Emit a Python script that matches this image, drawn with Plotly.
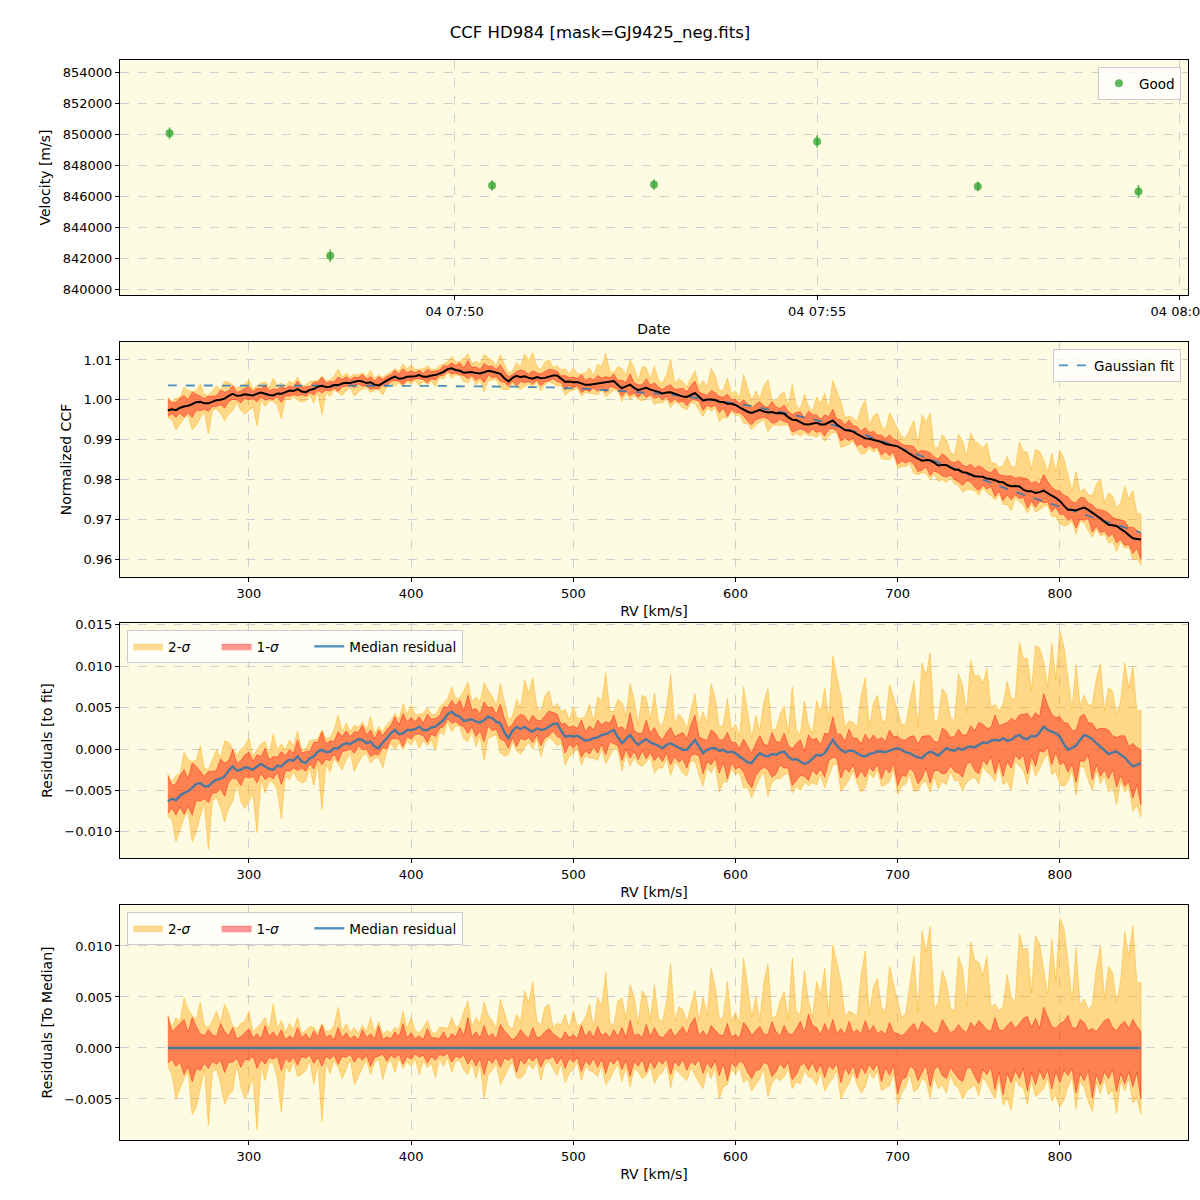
import numpy as np
import plotly.graph_objects as go

# ---------------- data ----------------
obs_time = ["2021-10-04 07:46:04", "2021-10-04 07:48:17", "2021-10-04 07:50:31",
            "2021-10-04 07:52:45", "2021-10-04 07:55:00", "2021-10-04 07:57:13",
            "2021-10-04 07:59:26"]
obs_vel = [850050, 842150, 846680, 846740, 849520, 846620, 846290]
obs_err = [380, 400, 330, 330, 400, 320, 420]

rv = [250 + 2.5 * i for i in range(241)]

# Gaussian fit (normalized CCF)
gauss_fit = [
    1.0036, 1.0036, 1.0036, 1.0036, 1.0036, 1.0036, 1.0036, 1.0036, 1.0036, 1.0036,
    1.0036, 1.0036, 1.0036, 1.0036, 1.0036, 1.0036, 1.0036, 1.0036, 1.0036, 1.0036,
    1.0036, 1.0036, 1.0036, 1.0036, 1.0036, 1.0036, 1.0036, 1.0036, 1.0036, 1.0036,
    1.0036, 1.0036, 1.0036, 1.0036, 1.0036, 1.0036, 1.0036, 1.0036, 1.0036, 1.0036,
    1.0036, 1.0036, 1.0036, 1.0036, 1.0036, 1.0036, 1.0036, 1.0036, 1.0035, 1.0035,
    1.0035, 1.0035, 1.0035, 1.0035, 1.0035, 1.0035, 1.0035, 1.0035, 1.0035, 1.0035,
    1.0035, 1.0035, 1.0035, 1.0035, 1.0035, 1.0035, 1.0035, 1.0035, 1.0035, 1.0035,
    1.0034, 1.0034, 1.0034, 1.0034, 1.0034, 1.0034, 1.0034, 1.0034, 1.0034, 1.0034,
    1.0034, 1.0034, 1.0034, 1.0034, 1.0033, 1.0033, 1.0033, 1.0033, 1.0032, 1.0032,
    1.0032, 1.0032, 1.0031, 1.0031, 1.0031, 1.0031, 1.0030, 1.0030, 1.0030, 1.0030,
    1.0029, 1.00285, 1.0028, 1.00275, 1.0027, 1.00265, 1.0026, 1.00255, 1.0025, 1.00245,
    1.0024, 1.0023, 1.0022, 1.00215, 1.0021, 1.0020, 1.0019, 1.00185, 1.0018, 1.00175,
    1.0017, 1.0016, 1.0015, 1.00135, 1.0012, 1.0011, 1.0010, 1.0009, 1.0008, 1.0007,
    1.0006, 1.00045, 1.0003, 1.00015, 1.0000, 0.99985, 0.9997, 0.99955, 0.9994, 0.9993,
    0.9992, 0.9990, 0.9988, 0.9986, 0.9984, 0.9982, 0.9980, 0.99785, 0.9977, 0.9975,
    0.9973, 0.99705, 0.9968, 0.99655, 0.9963, 0.9961, 0.9959, 0.99565, 0.9954, 0.99515,
    0.9949, 0.9946, 0.9943, 0.9940, 0.9937, 0.9934, 0.9931, 0.9928, 0.9925, 0.9922,
    0.9919, 0.99155, 0.9912, 0.9908, 0.9904, 0.99005, 0.9897, 0.9893, 0.9889, 0.98855,
    0.9882, 0.9878, 0.9874, 0.9870, 0.9866, 0.9862, 0.9858, 0.98545, 0.9851, 0.9847,
    0.9843, 0.9839, 0.9835, 0.9831, 0.9827, 0.9823, 0.9819, 0.98145, 0.9810, 0.9806,
    0.9802, 0.97985, 0.9795, 0.9791, 0.9787, 0.97835, 0.9780, 0.9776, 0.9772, 0.97685,
    0.9765, 0.97615, 0.9758, 0.97545, 0.9751, 0.9748, 0.9745, 0.97415, 0.9738, 0.97345,
    0.9731, 0.9728, 0.9725, 0.97215, 0.9718, 0.9715, 0.9712, 0.97085, 0.9705, 0.9702,
    0.9699, 0.96955, 0.9692, 0.9689, 0.9686, 0.96825, 0.9679, 0.9676, 0.9673, 0.96695,
    0.9666]

# median residual to fit (units of 1e-3)
median_res = [
    -6.3, -6.0, -6.2, -5.6, -5.3, -5.1, -4.7, -4.2, -4.1, -4.5,
    -4.5, -4.0, -3.7, -3.6, -3.3, -2.6, -2.1, -2.6, -2.5, -2.2,
    -2.3, -2.5, -2.1, -1.8, -2.1, -2.4, -2.5, -2.0, -2.1, -1.6,
    -1.3, -1.4, -0.9, -1.5, -1.7, -1.1, -0.9, -0.3, -0.1, -0.4,
    -0.3, 0.1, 0.1, 0.5, 0.7, 0.6, 0.9, 1.2, 1.1, 0.7,
    0.9, 0.3, 0.1, 0.8, 1.3, 1.9, 2.3, 1.8, 1.9, 2.3,
    2.3, 2.4, 2.7, 2.3, 2.3, 2.6, 2.7, 3.1, 3.5, 4.2,
    4.5, 4.1, 3.9, 3.4, 3.5, 3.6, 3.3, 3.2, 3.5, 3.9,
    3.7, 3.3, 3.1, 2.0, 1.3, 2.2, 2.7, 2.4, 2.7, 2.3,
    2.1, 2.5, 2.3, 2.4, 2.7, 3.0, 3.1, 2.2, 1.5, 1.6,
    1.5, 1.6, 1.3, 1.0, 1.1, 1.3, 1.4, 1.7, 1.8, 2.1,
    2.3, 1.4, 0.7, 1.2, 1.7, 1.0, 0.5, 0.9, 1.2, 0.8,
    0.6, 0.4, 0.1, 0.5, 0.7, 0.4, 0.2, -0.1, -0.1, 0.5,
    1.1, 0.3, -0.5, -0.1, 0.1, 0.1, -0.2, -0.1, -0.4, -0.3,
    -0.5, -0.9, -1.3, -1.6, -1.7, -1.0, -0.5, -0.8, -0.9, -0.6,
    -0.7, -0.4, -0.3, -0.9, -1.3, -1.2, -1.5, -1.8, -1.6, -1.1,
    -0.7, -0.8, -0.5, 0.3, 1.1, 0.4, -0.1, -0.4, -0.2, -0.2,
    -0.5, -0.8, -0.9, -0.6, -0.5, -0.3, -0.3, -0.4, -0.2, 0.0,
    0.1, -0.1, -0.4, -0.5, -0.8, -1.0, -1.1, -0.6, -0.3, -0.5,
    -0.8, -0.3, 0.1, -0.1, -0.2, 0.1, -0.1, 0.2, 0.3, 0.2,
    0.5, 0.8, 0.7, 1.0, 1.1, 1.0, 1.3, 1.0, 1.1, 1.5,
    1.7, 1.3, 1.2, 1.6, 1.5, 2.0, 2.7, 2.3, 2.1, 1.9,
    1.5, 0.6, -0.1, 0.2, 0.4, 1.1, 1.7, 1.5, 1.2, 0.7,
    0.3, -0.2, -0.6, -0.4, -0.3, -0.7, -1.0, -1.6, -2.1, -1.9,
    -1.7]

# band offsets relative to the median (units of 1e-3)
sig2_hi = [
    3.3, 2.0, 3.0, 2.6, 4.9, 3.8, 3.2, 2.8, 4.5, 2.2, 2.0, 2.7, 3.6, 2.5, 4.3, 3.4, 2.1, 1.9, 2.4, 2.6,
    3.6, 1.6, 2.0, 2.4, 3.0, 1.8, 4.3, 1.9, 2.7, 1.5, 2.4, 1.8, 3.0, 1.4, 1.7, 2.1, 2.0, 1.5, 2.4, 1.6,
    1.7, 2.2, 4.0, 1.6, 2.4, 1.5, 2.0, 1.4, 2.2, 1.6, 3.0, 1.5, 2.6, 1.3, 1.7, 1.5, 2.0, 1.8, 3.6, 1.9,
    3.0, 1.7, 1.5, 2.0, 2.7, 1.6, 1.4, 2.0, 2.0, 1.9, 3.0, 2.0, 2.3, 3.6, 4.6, 2.1, 3.0, 2.4, 4.5, 3.2,
    2.7, 1.9, 4.8, 3.6, 2.2, 1.8, 3.3, 2.5, 5.6, 4.4, 6.5, 2.6, 2.2, 4.0, 4.3, 2.0, 2.4, 2.3, 3.3, 1.9,
    3.6, 2.1, 2.4, 3.0, 4.3, 2.0, 4.9, 4.1, 7.4, 2.5, 2.2, 4.6, 4.9, 2.8, 6.2, 5.0, 2.4, 5.6, 5.0, 2.7,
    6.2, 2.9, 2.6, 4.5, 8.3, 2.6, 4.0, 3.8, 2.5, 4.2, 5.6, 2.7, 5.0, 3.2, 7.8, 6.0, 2.8, 3.0, 6.5, 2.6,
    3.5, 2.4, 8.8, 6.0, 3.0, 5.0, 2.7, 6.5, 8.2, 2.9, 3.1, 4.6, 5.5, 2.8, 8.8, 3.5, 3.3, 7.6, 4.6, 3.0,
    6.5, 5.2, 7.8, 3.2, 10.1, 8.4, 6.5, 3.0, 3.6, 3.4, 3.1, 7.2, 9.5, 3.3, 6.0, 6.8, 4.0, 3.5, 8.0, 6.2,
    4.6, 3.0, 3.4, 6.2, 9.0, 3.6, 11.5, 9.4, 11.9, 3.8, 4.4, 7.6, 6.5, 3.9, 3.6, 9.0, 7.8, 4.1, 10.4, 8.6,
    8.4, 7.1, 9.0, 4.0, 4.3, 3.6, 4.1, 7.2, 5.0, 4.5, 11.2, 9.6, 9.8, 5.4, 11.0, 10.2, 7.8, 5.2, 10.7, 6.5,
    12.7, 11.8, 8.4, 4.6, 9.8, 4.2, 4.8, 3.8, 4.2, 7.8, 10.0, 4.8, 8.0, 7.4, 4.5, 6.5, 11.4, 9.0, 12.0, 6.4,
    6.4]
sig1_hi = [
    3.1, 1.6, 2.0, 2.4, 2.8, 1.5, 3.0, 2.1, 1.4, 1.2, 1.8, 1.3, 1.1, 2.4, 1.6, 1.2, 2.0, 0.9, 1.1, 1.5,
    1.9, 1.0, 1.4, 0.9, 2.2, 1.1, 1.6, 1.0, 1.8, 0.8, 1.2, 0.9, 2.0, 1.0, 1.4, 0.8, 1.7, 1.1, 2.2, 1.0,
    1.3, 0.8, 2.0, 1.0, 1.5, 0.9, 1.2, 0.8, 1.8, 1.0, 1.4, 0.9, 2.2, 0.8, 1.1, 0.9, 1.6, 1.1, 2.4, 1.0,
    1.5, 0.9, 1.2, 0.8, 1.9, 1.0, 1.0, 0.9, 1.6, 0.8, 1.4, 1.1, 2.0, 1.2, 3.0, 1.1, 1.6, 1.0, 2.2, 1.1,
    1.4, 0.9, 2.3, 1.7, 1.2, 0.8, 1.1, 1.8, 1.3, 0.9, 2.0, 1.0, 1.1, 1.6, 1.9, 1.4, 1.1, 0.8, 1.6, 1.0,
    1.3, 0.9, 2.2, 1.1, 1.7, 1.0, 2.1, 1.2, 1.5, 1.0, 1.8, 1.1, 2.0, 1.0, 2.7, 1.2, 1.4, 1.0, 2.3, 1.1,
    2.0, 1.2, 1.0, 1.5, 1.9, 1.1, 1.6, 2.1, 1.3, 2.4, 3.0, 1.2, 1.7, 1.1, 2.2, 1.8, 1.3, 1.2, 2.4, 1.1,
    1.3, 1.0, 2.5, 2.0, 1.2, 1.7, 2.1, 1.4, 1.3, 2.6, 1.6, 1.2, 2.2, 1.4, 1.3, 1.9, 2.6, 1.5, 3.3, 2.2,
    2.0, 1.3, 2.4, 1.5, 2.8, 1.4, 1.9, 1.3, 2.6, 1.5, 1.8, 1.4, 2.7, 1.6, 2.2, 1.4, 1.7, 1.3, 2.5, 1.5,
    1.4, 1.2, 1.5, 2.0, 2.4, 1.6, 2.6, 2.2, 1.9, 1.4, 1.6, 2.8, 2.1, 1.5, 1.7, 2.3, 1.8, 1.5, 2.5, 2.0,
    2.7, 2.2, 1.8, 1.6, 3.0, 1.8, 1.7, 2.2, 2.6, 1.9, 2.4, 2.9, 3.1, 2.0, 2.9, 1.9, 4.0, 3.0, 2.1, 1.9,
    2.4, 2.6, 3.2, 2.0, 1.9, 2.8, 2.5, 1.7, 1.9, 1.6, 2.2, 2.7, 2.9, 2.0, 1.7, 2.3, 2.6, 1.9, 2.8, 2.1,
    1.6]
sig1_lo = [
    -1.5, -1.1, -1.8, -1.4, -2.6, -1.8, -3.3, -2.0, -2.2, -1.5, -2.0, -1.3, -1.6, -1.2, -2.4, -1.4, -1.4, -1.0, -1.9, -1.1,
    -1.2, -0.8, -2.0, -1.1, -1.6, -0.9, -1.1, -0.8, -2.2, -1.0, -1.4, -0.9, -1.7, -0.8, -1.0, -0.7, -1.5, -0.9, -1.8, -0.8,
    -1.1, -0.7, -1.6, -0.8, -0.9, -0.6, -1.4, -0.8, -1.2, -0.7, -1.8, -0.9, -0.8, -0.6, -1.3, -0.7, -1.0, -0.6, -1.6, -0.8,
    -1.1, -0.6, -0.9, -0.7, -1.5, -0.8, -1.2, -0.6, -0.8, -0.5, -1.4, -0.8, -1.0, -0.7, -1.6, -0.9, -1.8, -1.0, -2.6, -1.1,
    -1.5, -0.9, -1.9, -1.0, -1.2, -0.8, -2.4, -1.1, -1.6, -0.9, -1.3, -0.8, -1.9, -1.0, -1.1, -0.8, -1.6, -0.9, -2.0, -1.0,
    -1.4, -0.9, -2.3, -1.2, -1.7, -1.0, -1.9, -1.1, -2.5, -1.2, -1.6, -1.0, -2.1, -1.2, -2.8, -1.3, -1.8, -1.1, -2.4, -1.2,
    -2.0, -1.2, -1.6, -1.0, -2.6, -1.3, -1.8, -1.1, -2.2, -1.3, -1.7, -1.1, -2.5, -1.4, -2.0, -1.2, -2.7, -1.5, -3.2, -1.4,
    -1.9, -1.3, -1.5, -2.4, -3.0, -2.2, -2.1, -1.4, -1.6, -2.8, -2.3, -1.5, -2.0, -1.4, -3.1, -2.6, -1.7, -1.5, -2.2, -1.4,
    -2.4, -1.6, -2.9, -1.7, -2.1, -1.5, -3.4, -1.9, -2.6, -1.7, -3.0, -1.8, -2.5, -1.6, -2.2, -1.5, -3.3, -1.9, -2.7, -1.7,
    -4.5, -3.1, -2.9, -1.8, -2.0, -3.2, -2.4, -1.7, -3.8, -2.1, -1.8, -2.7, -3.0, -1.9, -2.5, -3.0, -3.3, -2.0, -1.9, -2.8,
    -3.5, -2.1, -2.6, -1.9, -4.1, -2.3, -4.6, -2.5, -3.4, -2.2, -3.0, -2.0, -4.2, -2.4, -3.6, -2.2, -3.1, -2.1, -4.0, -2.3,
    -3.4, -2.2, -2.7, -2.0, -4.4, -2.5, -3.2, -2.2, -4.9, -2.6, -3.6, -2.3, -3.0, -2.1, -4.3, -2.5, -3.5, -2.3, -3.8, -2.4,
    -5.0]
sig2_lo = [
    -1.8, -2.6, -5.0, -4.1, -3.0, -2.4, -6.5, -5.8, -4.0, -2.0, -7.6, -2.3, -2.1, -3.5, -5.5, -4.6, -4.2, -1.6, -3.8, -5.0,
    -4.0, -2.9, -8.0, -1.8, -3.2, -1.4, -1.5, -3.0, -6.3, -1.7, -2.4, -1.3, -2.8, -2.6, -2.2, -1.2, -3.5, -1.5, -7.2, -1.4,
    -2.5, -1.2, -1.9, -3.0, -2.0, -1.1, -3.6, -2.8, -1.9, -1.2, -2.6, -1.4, -1.1, -3.1, -1.6, -1.2, -2.4, -1.0, -2.0, -1.3,
    -1.8, -1.0, -2.6, -1.2, -1.9, -1.5, -2.9, -1.0, -1.8, -0.9, -2.4, -1.3, -1.2, -2.2, -2.6, -1.4, -3.0, -1.6, -4.9, -2.6,
    -2.2, -1.5, -3.6, -2.8, -2.0, -1.4, -2.9, -3.0, -2.5, -1.5, -2.1, -1.3, -3.2, -1.6, -1.3, -2.0, -2.7, -1.5, -3.4, -2.5,
    -2.0, -1.5, -3.2, -1.8, -2.2, -2.4, -2.8, -1.7, -3.6, -3.0, -2.2, -1.6, -3.3, -1.8, -3.8, -2.0, -2.3, -3.0, -2.7, -1.8,
    -3.5, -2.7, -2.4, -1.6, -3.9, -2.0, -2.3, -2.8, -3.2, -1.9, -2.6, -3.4, -4.0, -2.1, -3.0, -1.9, -5.0, -3.8, -3.6, -2.0,
    -2.6, -1.9, -3.4, -3.0, -4.2, -3.6, -3.0, -2.0, -4.8, -3.4, -2.9, -3.2, -2.8, -2.0, -4.0, -3.3, -3.5, -2.2, -2.8, -3.0,
    -3.6, -2.3, -4.2, -3.5, -3.0, -2.2, -5.0, -4.1, -3.5, -2.4, -3.6, -4.4, -3.8, -2.3, -3.0, -2.2, -4.2, -3.9, -3.7, -2.4,
    -5.5, -4.4, -3.8, -2.5, -4.3, -4.0, -3.0, -3.3, -4.9, -2.8, -4.0, -3.6, -4.4, -2.6, -3.6, -3.9, -5.0, -4.2, -3.9, -3.6,
    -4.7, -2.8, -3.5, -4.2, -5.0, -3.0, -5.6, -4.9, -6.1, -3.0, -3.7, -3.9, -5.5, -3.1, -4.8, -4.4, -4.0, -2.9, -5.2, -4.6,
    -5.8, -5.1, -3.8, -2.8, -6.0, -3.2, -3.9, -5.2, -6.2, -3.3, -4.5, -3.0, -4.6, -4.1, -6.4, -3.2, -4.2, -3.0, -5.4, -4.9,
    -6.5]

# ---------------- derived arrays ----------------
x = np.array(rv, dtype=float)
fit = np.array(gauss_fit)
med = np.array(median_res) * 1e-3
s1h = np.array(sig1_hi) * 1e-3
s1l = np.array(sig1_lo) * 1e-3
s2h = np.maximum(np.array(sig2_hi) * 1e-3, s1h)
s2l = np.minimum(np.array(sig2_lo) * 1e-3, s1l)
for arr in (fit, med, s2h, s1h, s1l, s2l):
    assert len(arr) == len(x), (len(arr), len(x))

ORANGE_FILL = "rgba(255,165,0,0.4)"
RED_FILL = "rgba(255,0,0,0.4)"
BLUE = "rgba(31,119,180,0.8)"
BG = "#fdfbe2"
FONT = "DejaVu Sans"
NB = "\u00a0"

fig = go.Figure()


def band(lo, hi, color, xa, ya, name=None, legend=None):
    xs = np.concatenate([x, x[::-1]])
    ys = np.concatenate([hi, lo[::-1]])
    fig.add_trace(go.Scatter(
        x=xs, y=ys, fill="toself", fillcolor=color,
        line=dict(color=color, width=1), mode="lines",
        xaxis=xa, yaxis=ya, name=name or "",
        showlegend=name is not None, legend=legend, hoverinfo="skip"))


# Panel 1: velocities
fig.add_trace(go.Scatter(
    x=obs_time, y=obs_vel, mode="markers", name="Good",
    marker=dict(color="#2ca02c", size=8, opacity=0.75),
    error_y=dict(type="data", array=obs_err, color="rgba(44,160,44,0.8)",
                 thickness=1.5, width=0),
    xaxis="x", yaxis="y", legend="legend"))

# Panel 2: normalized CCF
base = fit + med
band(base + s2l, base + s2h, ORANGE_FILL, "x2", "y2")
band(base + s1l, base + s1h, RED_FILL, "x2", "y2")
fig.add_trace(go.Scatter(x=x, y=fit, mode="lines", name="Gaussian fit",
                         line=dict(color=BLUE, width=1.8, dash="dash"),
                         xaxis="x2", yaxis="y2", legend="legend2"))
fig.add_trace(go.Scatter(x=x, y=base, mode="lines", showlegend=False,
                         line=dict(color="black", width=2),
                         xaxis="x2", yaxis="y2"))

# Panel 3: residuals to fit
band(med + s2l, med + s2h, ORANGE_FILL, "x3", "y3", "2-<i>σ</i>" + NB * 5, "legend3")
band(med + s1l, med + s1h, RED_FILL, "x3", "y3", "1-<i>σ</i>" + NB * 6, "legend3")
fig.add_trace(go.Scatter(x=x, y=med, mode="lines", name="Median residual",
                         line=dict(color=BLUE, width=2.4),
                         xaxis="x3", yaxis="y3", legend="legend3"))

# Panel 4: residuals to median
band(s2l, s2h, ORANGE_FILL, "x4", "y4", "2-<i>σ</i>" + NB * 5, "legend4")
band(s1l, s1h, RED_FILL, "x4", "y4", "1-<i>σ</i>" + NB * 6, "legend4")
fig.add_trace(go.Scatter(x=x, y=np.zeros_like(x), mode="lines", name="Median residual",
                         line=dict(color=BLUE, width=2.4),
                         xaxis="x4", yaxis="y4", legend="legend4"))

axis_common = dict(showline=True, linecolor="black", linewidth=1, mirror=True,
                   ticks="outside", ticklen=4, tickcolor="black",
                   showgrid=True, gridcolor="#cfcfcf", griddash="dash", gridwidth=1,
                   zeroline=False, automargin=False,
                   tickfont=dict(size=13, color="black"),
                   title_font=dict(size=14, color="black"))

legend_common = dict(bgcolor="rgba(255,255,255,0.8)", bordercolor="#cccccc",
                     borderwidth=1, font=dict(size=13.5, color="black"))

fig.update_layout(
    width=1200, height=1200,
    margin=dict(l=120, r=12, t=60, b=60, autoexpand=False),
    paper_bgcolor="white", plot_bgcolor=BG,
    font=dict(family=FONT, color="black"),
    title=dict(text="CCF HD984 [mask=GJ9425_neg.fits]", x=0.5, xref="container",
               y=1 - 32 / 1200, yref="container", yanchor="middle",
               font=dict(size=16.5, color="black")),
    xaxis=dict(axis_common, type="date", domain=[0, 1], anchor="y",
               range=["2021-10-04 07:45:23", "2021-10-04 08:00:07"],
               tickformat="%d %H:%M", tick0="2021-10-04 07:50:00", dtick=300000,
               ticklabeloverflow="allow",
               title=dict(text="Date", standoff=6)),
    yaxis=dict(axis_common, domain=[0.7824, 1.0], anchor="x",
               range=[839613, 854774], dtick=2000, tickformat="d",
               title=dict(text="Velocity [m/s]", standoff=8)),
    xaxis2=dict(axis_common, domain=[0, 1], anchor="y2", range=[220.5, 879],
                dtick=100, title=dict(text="RV [km/s]", standoff=6)),
    yaxis2=dict(axis_common, domain=[0.5213, 0.7389], anchor="x2",
                range=[0.95548, 1.01452], dtick=0.01, tickformat=".2f",
                title=dict(text="Normalized CCF", standoff=8)),
    xaxis3=dict(axis_common, domain=[0, 1], anchor="y3", range=[220.5, 879],
                dtick=100, title=dict(text="RV [km/s]", standoff=6)),
    yaxis3=dict(axis_common, domain=[0.2611, 0.4787], anchor="x3",
                range=[-0.01316, 0.01522], dtick=0.005, tickformat=".3f",
                title=dict(text="Residuals [to fit]", standoff=8)),
    xaxis4=dict(axis_common, domain=[0, 1], anchor="y4", range=[220.5, 879],
                dtick=100, title=dict(text="RV [km/s]", standoff=6)),
    yaxis4=dict(axis_common, domain=[0, 0.2176], anchor="x4",
                range=[-0.00902, 0.01402], dtick=0.005, tickformat=".3f",
                title=dict(text="Residuals [To Median]", standoff=8)),
    legend=dict(legend_common, x=0.9934, xanchor="right", y=0.9935, yanchor="top"),
    legend2=dict(legend_common, x=0.9934, xanchor="right", y=0.7324, yanchor="top"),
    legend3=dict(legend_common, x=0.0066, xanchor="left", y=0.4722, yanchor="top",
                 orientation="h"),
    legend4=dict(legend_common, x=0.0066, xanchor="left", y=0.2111, yanchor="top",
                 orientation="h"),
    showlegend=True,
)

fig.write_html("out.html")
